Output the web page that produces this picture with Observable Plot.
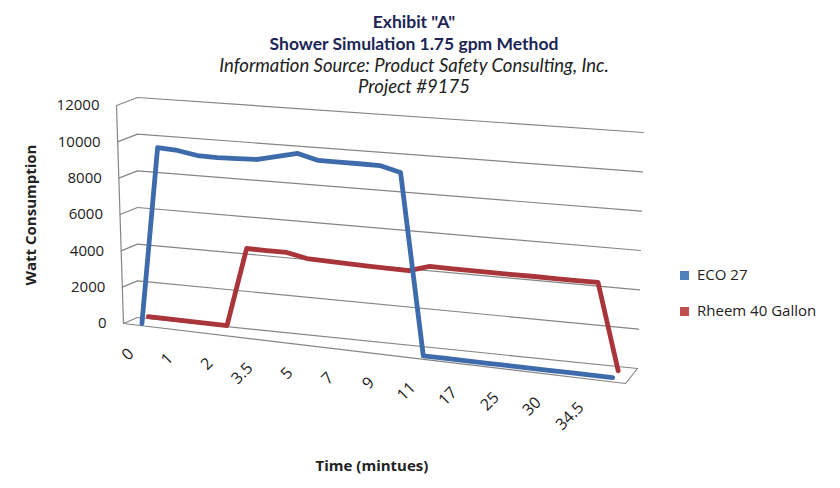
<!DOCTYPE html>
<html><head><meta charset="utf-8">
<script src="https://cdn.jsdelivr.net/npm/d3@7"></script>
<script src="https://cdn.jsdelivr.net/npm/@observablehq/plot@0.6"></script>
<style>
html,body{margin:0;padding:0;background:#fff;}
#chart{position:relative;width:840px;height:488px;overflow:hidden;font-family:"Open Sans",sans-serif;color:#222;}
#chart svg{position:absolute;left:0;top:0;}
.t{position:absolute;left:0;width:828px;text-align:center;white-space:nowrap;line-height:20px;font-family:Lato,"Open Sans",sans-serif;}
.b{font-weight:bold;color:#1c2556;font-size:17.5px;}
.i{font-style:italic;color:#222;font-size:18.5px;}
.ytitle{position:absolute;left:30px;top:215px;transform:translate(-50%,-50%) rotate(-90deg);font-weight:bold;font-size:15px;white-space:nowrap;}
.xtitle{position:absolute;left:372px;top:465px;transform:translate(-50%,-50%);font-weight:bold;font-size:15px;white-space:nowrap;}
.leg{position:absolute;left:680px;font-size:15px;white-space:nowrap;line-height:20px;}
.leg i{display:inline-block;width:9px;height:9px;margin-right:8px;vertical-align:0px;}
</style></head><body><div id="chart"></div><script>
// ---------------- data ----------------
const times = ["0","0.5","1","1.5","2","3","3.5","4","5","6","7","8","9","10","11","14","17","20","25","28","30","32","34.5","35"];
const labelEvery = 2;
const eco27   = [0, 9740, 9680, 9500, 9490, 9530, 9580, 9840, 10100, 9820, 9830, 9840, 9840, 9570, 0, 0, 0, 0, 0, 0, 0, 0, 0, 0];
const rheem40 = [220, 210, 200, 200, 190, 4450, 4440, 4440, 4220, 4190, 4160, 4130, 4110, 4100, 4420, 4410, 4400, 4400, 4400, 4410, 4400, 4410, 4415, 0];
const yTicks = [0, 2000, 4000, 6000, 8000, 10000, 12000];
const seriesNames = ["ECO 27", "Rheem 40 Gallon"];
const seriesColors = ["#3d6bab", "#a9353b"];
const legendColors = ["#4f81bd", "#c0504d"];

// ---------------- 3-D view (camera corners of the plot box) ----------------
const yMax = 12000;
const pad = 0.75, persp = 1.05;
const C = {
  b00: [137, 317], b10: [637, 368], b01: [137, 97], b11: [643, 132],
  f00: [123, 323], f10: [625, 383], f01: [116, 105], f11: [622, 150]
};
const lerp = (a, b, t) => [a[0] + (b[0] - a[0]) * t, a[1] + (b[1] - a[1]) * t];
function P(u, v, w) {
  const back = lerp(lerp(C.b00, C.b10, u), lerp(C.b01, C.b11, u), v);
  const front = lerp(lerp(C.f00, C.f10, u), lerp(C.f01, C.f11, u), v);
  return lerp(back, front, w);
}
const n = times.length;
function uOf(i) { const t = (i + pad) / (n - 1 + 2 * pad); return t / (persp - (persp - 1) * t); }
const proj = (fn) => d3.geoTransform({ point(x, y) { const p = fn(x, y); this.stream.point(p[0], p[1]); } });
const atDepth = (w) => (x, y) => P(uOf(x), y / yMax, w);
const sidePlane = (d, y) => P(0, y / yMax, d);
const floorPlane = (x, d) => P(uOf(x), 0, d);
const depthOf = [0.73, 0.27];

const chart = document.getElementById("chart");
function layer(fn, marks) {
  const svg = Plot.plot({
    width: 840, height: 488, margin: 0,
    projection: proj(fn),
    style: { background: "transparent", fontFamily: "'Open Sans', sans-serif", fontSize: "15px", overflow: "visible" },
    marks
  });
  chart.appendChild(svg);
}
const grid = "#858585";
const x0 = -pad, x1 = n - 1 + pad;

// back wall gridlines
layer(atDepth(0), [
  Plot.line(yTicks.flatMap(v => [{x: x0, v}, {x: x1, v}]), {x: "x", y: "v", z: "v", stroke: grid, strokeWidth: 1.2, curve: "linear"})
]);
// side wall
layer(sidePlane, [
  Plot.line(yTicks.flatMap(v => [{d: 1, v}, {d: 0, v}]), {x: "d", y: "v", z: "v", stroke: grid, strokeWidth: 1.2, curve: "linear"}),
  Plot.line([{d: 1, v: 0}, {d: 1, v: yMax}], {x: "d", y: "v", stroke: grid, strokeWidth: 1.2, curve: "linear"})
]);
// floor
layer(floorPlane, [
  Plot.line([{x: x0, d: 1}, {x: x1, d: 1}, {x: x1, d: 0}], {x: "x", y: "d", stroke: grid, strokeWidth: 1.2, curve: "linear"})
]);
// series (back row first)
const seriesData = [eco27, rheem40];
[1, 0].forEach(s => {
  layer(atDepth(depthOf[s]), [
    Plot.line(seriesData[s].map((v, i) => ({i, v})), {x: "i", y: "v", stroke: seriesColors[s], strokeWidth: 4.8, strokeLinejoin: "round", curve: "linear"})
  ]);
});
// tick labels (front edge)
layer(atDepth(1), [
  Plot.text(yTicks, {x: () => x0, y: d => d, text: d => String(d), textAnchor: "end", dx: -17, fontSize: 15, fill: "#222"}),
  Plot.text(times.map((t, i) => ({t, i})).filter(d => d.i % labelEvery === 0), {x: "i", y: () => 0, text: "t", rotate: -45, textAnchor: "end", dx: -7, dy: 26, fontSize: 16, fill: "#222"})
]);

// titles, axis titles, legend
const add = (cls, txt, css) => { const e = document.createElement("div"); e.className = cls; e.textContent = txt; Object.assign(e.style, css || {}); chart.appendChild(e); return e; };
add("t b", 'Exhibit "A"', {top: "12px"});
add("t b", "Shower Simulation 1.75 gpm Method", {top: "34px"});
add("t i", "Information Source: Product Safety Consulting, Inc.", {top: "55px"});
add("t i", "Project #9175", {top: "76px"});
add("ytitle", "Watt Consumption");
add("xtitle", "Time (mintues)");
seriesNames.forEach((name, k) => {
  const e = add("leg", "", {top: (264 + 36 * k) + "px"});
  const sw = document.createElement("i"); sw.style.background = legendColors[k];
  e.appendChild(sw); e.appendChild(document.createTextNode(name));
});
</script></body></html>
